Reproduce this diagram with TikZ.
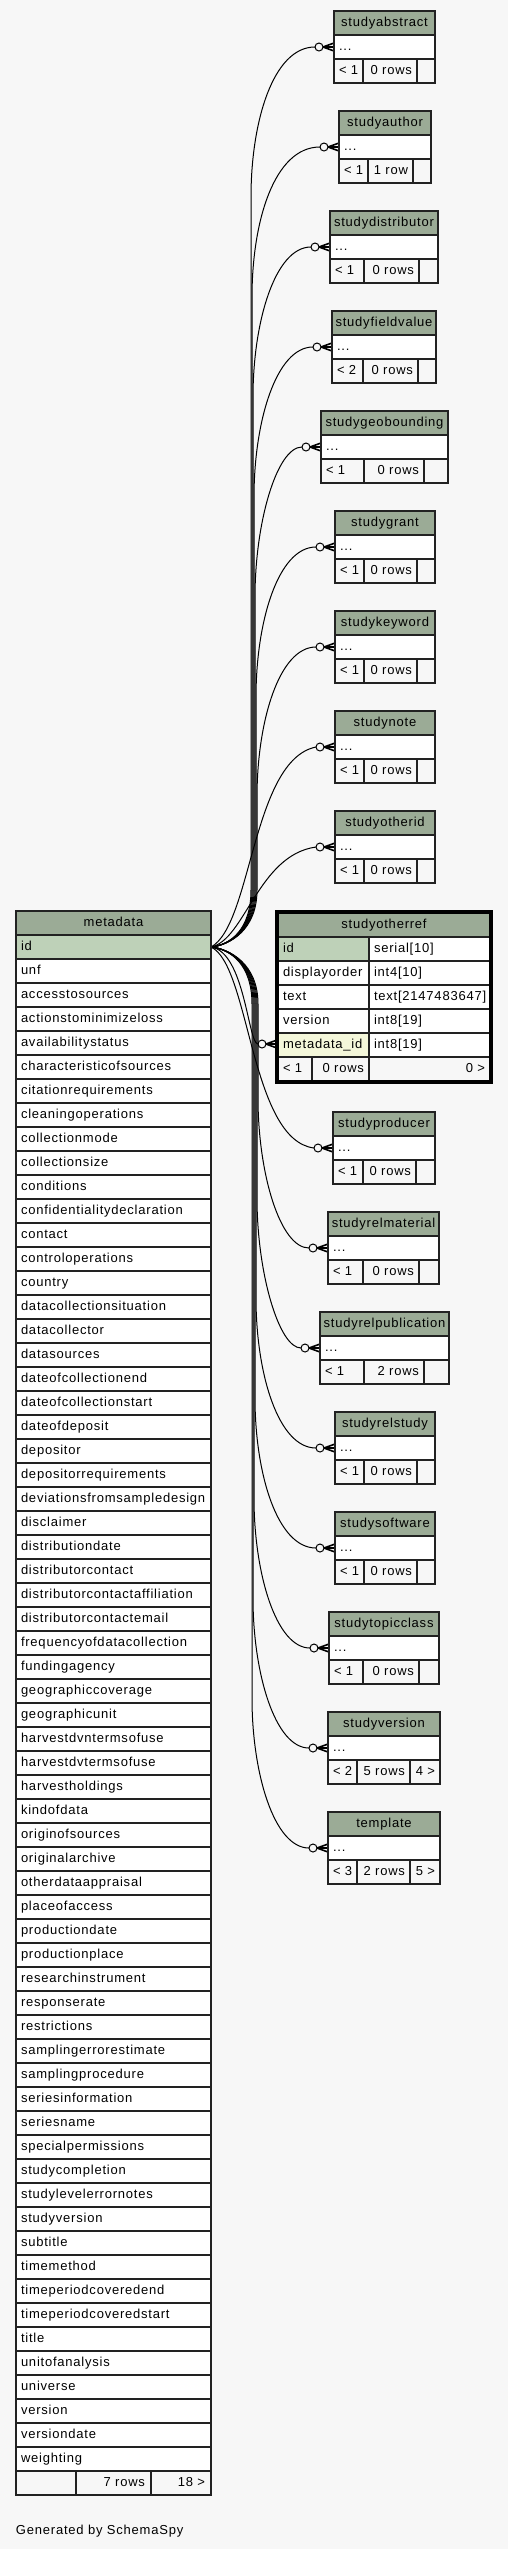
\documentclass[tikz,border=0pt]{standalone}
\usepackage{fontspec}
\setmainfont{Liberation Sans}[LetterSpace=6]
\usetikzlibrary{calc}
\definecolor{bg}{HTML}{F7F7F7}
\definecolor{hdr}{HTML}{9BAB96}
\definecolor{pk}{HTML}{BED1B8}
\definecolor{fk}{HTML}{F4F7DA}
\definecolor{ln}{HTML}{222222}
\tikzset{
  txt/.style={font=\fontsize{13}{15}\selectfont, inner sep=0pt, outer sep=0pt, text=black},
  cellline/.style={draw=ln, line width=1.2pt},
  outerline/.style={draw=ln, line width=1.8pt},
  focusline/.style={draw=black, line width=3.4pt},
  conn/.style={draw=black, line width=1pt},
  crowline/.style={draw=black, line width=1.6pt},
}
% #1 name, #2 L, #3 s1, #4 s2, #5 R, #6 top, #7 foot left, #8 foot mid, #9 foot right
\newcommand\smalltab[9]{%
  \fill[hdr] (#2,#6) rectangle (#5,#6+24);
  \fill[white] (#2,#6+24) rectangle (#5,#6+48);
  \fill[bg] (#2,#6+48) rectangle (#5,#6+72);
  \draw[cellline] (#2,#6+24) -- (#5,#6+24) (#2,#6+48) -- (#5,#6+48)
     (#3,#6+48) -- (#3,#6+72) (#4,#6+48) -- (#4,#6+72);
  \draw[outerline] (#2,#6) rectangle (#5,#6+72);
  \node[txt,anchor=base] (#1-title) at ({(#2+#5)/2},#6+15) {#1};
  \node[txt,anchor=base west] (#1-dots) at (#2+5,#6+39) {...};
  \node[txt,anchor=base west] (#1-fl) at (#2+5,#6+63) {#7};
  \node[txt,anchor=base east] (#1-fm) at (#4-5,#6+63) {#8};
  \node[txt,anchor=base east] (#1-fr) at (#5-5,#6+63) {#9};
}
% coordinates for connector end at a table: #1 name, #2 L, #3 ty
\newcommand\tabend[3]{%
  \coordinate (#1-in) at (#2,#3);
  \coordinate (#1-end) at (#2-19,#3);
}
\newcommand\crowend[1]{%
  \draw[crowline] ($(#1-in)+(-11,0)$) -- ($(#1-in)+(0,-4)$)
                  ($(#1-in)+(-11,0)$) -- (#1-in)
                  ($(#1-in)+(-11,0)$) -- ($(#1-in)+(0,4)$);
  \draw[conn] ($(#1-in)+(-15,0)$) circle[radius=4];
}
% upper generic connector: #1 name, #2 Xv, #3 ty
\newcommand\upconn[3]{%
  \draw[conn] (mdid) .. controls (230,945) and (#2,930) .. (#2,890)
     -- (#2,#3+150) .. controls (#2,#3+75) and (#2+22,#3) .. (#1-end);
  \crowend{#1}
}
\newcommand\downconn[3]{%
  \draw[conn] (mdid) .. controls (230,949) and (#2,964) .. (#2,1004)
     -- (#2,#3-150) .. controls (#2,#3-75) and (#2+22,#3) .. (#1-end);
  \crowend{#1}
}
\begin{document}
\begin{tikzpicture}[x=1pt,y=-1pt]
\useasboundingbox (0,0) rectangle (508,2549);
\fill[bg] (0,0) rectangle (508,2549);

\coordinate (mdid) at (211,947);

% connector end coordinates
\tabend{studyabstract}{334}{47}
\tabend{studyauthor}{339}{147}
\tabend{studydistributor}{330}{247}
\tabend{studyfieldvalue}{332}{347}
\tabend{studygeobounding}{321}{447}
\tabend{studygrant}{335}{547}
\tabend{studykeyword}{335}{647}
\tabend{studynote}{335}{747}
\tabend{studyotherid}{335}{847}
\tabend{studyotherref}{277}{1044}
\tabend{studyproducer}{333}{1148}
\tabend{studyrelmaterial}{328}{1248}
\tabend{studyrelpublication}{320}{1348}
\tabend{studyrelstudy}{335}{1448}
\tabend{studysoftware}{335}{1548}
\tabend{studytopicclass}{329}{1648}
\tabend{studyversion}{328}{1748}
\tabend{template}{328}{1848}

% connectors
\upconn{studyabstract}{251}{47}
\upconn{studyauthor}{252}{147}
\upconn{studydistributor}{253}{247}
\upconn{studyfieldvalue}{254}{347}
\upconn{studygeobounding}{255}{447}
\upconn{studygrant}{256}{547}
\upconn{studykeyword}{257}{647}
\draw[conn] (mdid) .. controls (252,925) and (252,760) .. (studynote-end);
\crowend{studynote}
\draw[conn] (mdid) .. controls (245,940) and (258,855) .. (studyotherid-end);
\crowend{studyotherid}
\draw[conn] (mdid) .. controls (245,952) and (248,1044) .. (studyotherref-end);
\crowend{studyotherref}
\draw[conn] (mdid) .. controls (250,965) and (250,1140) .. (studyproducer-end);
\crowend{studyproducer}
\downconn{studyrelmaterial}{258}{1248}
\downconn{studyrelpublication}{257}{1348}
\downconn{studyrelstudy}{256}{1448}
\downconn{studysoftware}{255}{1548}
\downconn{studytopicclass}{254}{1648}
\downconn{studyversion}{253}{1748}
\downconn{template}{252}{1848}

% small tables
\smalltab{studyabstract}{334}{363}{417}{435}{11}{< 1}{0 rows}{}
\smalltab{studyauthor}{339}{368}{413}{431}{111}{< 1}{1 row}{}
\smalltab{studydistributor}{330}{364}{419}{438}{211}{< 1}{0 rows}{}
\smalltab{studyfieldvalue}{332}{363}{418}{436}{311}{< 2}{0 rows}{}
\smalltab{studygeobounding}{321}{364}{424}{448}{411}{< 1}{0 rows}{}
\smalltab{studygrant}{335}{364}{417}{435}{511}{< 1}{0 rows}{}
\smalltab{studykeyword}{335}{364}{417}{435}{611}{< 1}{0 rows}{}
\smalltab{studynote}{335}{364}{417}{435}{711}{< 1}{0 rows}{}
\smalltab{studyotherid}{335}{364}{417}{435}{811}{< 1}{0 rows}{}
\smalltab{studyproducer}{333}{363}{416}{435}{1112}{< 1}{0 rows}{}
\smalltab{studyrelmaterial}{328}{363}{419}{439}{1212}{< 1}{0 rows}{}
\smalltab{studyrelpublication}{320}{364}{424}{449}{1312}{< 1}{2 rows}{}
\smalltab{studyrelstudy}{335}{364}{417}{435}{1412}{< 1}{0 rows}{}
\smalltab{studysoftware}{335}{364}{417}{435}{1512}{< 1}{0 rows}{}
\smalltab{studytopicclass}{329}{363}{419}{439}{1612}{< 1}{0 rows}{}
\smalltab{studyversion}{328}{357}{410}{440}{1712}{< 2}{5 rows}{4 >}
\smalltab{template}{328}{357}{410}{440}{1812}{< 3}{2 rows}{5 >}

% focused table studyotherref
\fill[hdr] (277,912) rectangle (491,937);
\fill[white] (277,937) rectangle (491,1057);
\fill[pk] (277,937) rectangle (369,961);
\fill[fk] (277,1033) rectangle (369,1057);
\fill[bg] (277,1057) rectangle (491,1082);
\draw[cellline] (277,937) -- (491,937) (277,961) -- (491,961) (277,985) -- (491,985)
   (277,1009) -- (491,1009) (277,1033) -- (491,1033) (277,1057) -- (491,1057)
   (369,937) -- (369,1082) (312,1057) -- (312,1082);
\draw[focusline] (277,912) rectangle (491,1082);
\node[txt,anchor=base] (sor-title) at (384,928) {studyotherref};
\node[txt,anchor=base west] (sor-id) at (283,952) {id};
\node[txt,anchor=base west] (sor-idt) at (374,952) {serial[10]};
\node[txt,anchor=base west] (sor-do) at (283,976) {displayorder};
\node[txt,anchor=base west] (sor-dot) at (374,976) {int4[10]};
\node[txt,anchor=base west] (sor-tx) at (283,1000) {text};
\node[txt,anchor=base west] (sor-txt) at (374,1000) {text[2147483647]};
\node[txt,anchor=base west] (sor-ve) at (283,1024) {version};
\node[txt,anchor=base west] (sor-vet) at (374,1024) {int8[19]};
\node[txt,anchor=base west] (sor-md) at (283,1048) {metadata\_id};
\node[txt,anchor=base west] (sor-mdt) at (374,1048) {int8[19]};
\node[txt,anchor=base west] (sor-fl) at (283,1072) {< 1};
\node[txt,anchor=base east] (sor-fm) at (364,1072) {0 rows};
\node[txt,anchor=base east] (sor-fr) at (485,1072) {0 >};

% metadata table
\fill[hdr] (16,911) rectangle (211,935);
\fill[pk] (16,935) rectangle (211,959);
\fill[white] (16,959) rectangle (211,2471);
\fill[bg] (16,2471) rectangle (211,2495);
\foreach \k in {0,...,64} {
  \draw[cellline] (16,935+24*\k) -- (211,935+24*\k);
}
\draw[cellline] (76,2471) -- (76,2495) (151,2471) -- (151,2495);
\draw[outerline] (16,911) rectangle (211,2495);
\node[txt,anchor=base] (md-title) at (113.5,926) {metadata};
\foreach \f [count=\i from 0] in {id,unf,accesstosources,actionstominimizeloss,availabilitystatus,characteristicofsources,citationrequirements,cleaningoperations,collectionmode,collectionsize,conditions,confidentialitydeclaration,contact,controloperations,country,datacollectionsituation,datacollector,datasources,dateofcollectionend,dateofcollectionstart,dateofdeposit,depositor,depositorrequirements,deviationsfromsampledesign,disclaimer,distributiondate,distributorcontact,distributorcontactaffiliation,distributorcontactemail,frequencyofdatacollection,fundingagency,geographiccoverage,geographicunit,harvestdvntermsofuse,harvestdvtermsofuse,harvestholdings,kindofdata,originofsources,originalarchive,otherdataappraisal,placeofaccess,productiondate,productionplace,researchinstrument,responserate,restrictions,samplingerrorestimate,samplingprocedure,seriesinformation,seriesname,specialpermissions,studycompletion,studylevelerrornotes,studyversion,subtitle,timemethod,timeperiodcoveredend,timeperiodcoveredstart,title,unitofanalysis,universe,version,versiondate,weighting} {
  \node[txt,anchor=base west] (md-\f) at (21,950+24*\i) {\f};
}
\node[txt,anchor=base east] (md-fm) at (145,2486) {7 rows};
\node[txt,anchor=base east] (md-fr) at (205,2486) {18 >};

\node[txt,anchor=base west] (gen) at (16,2534) {Generated by SchemaSpy};
\end{tikzpicture}
\end{document}
